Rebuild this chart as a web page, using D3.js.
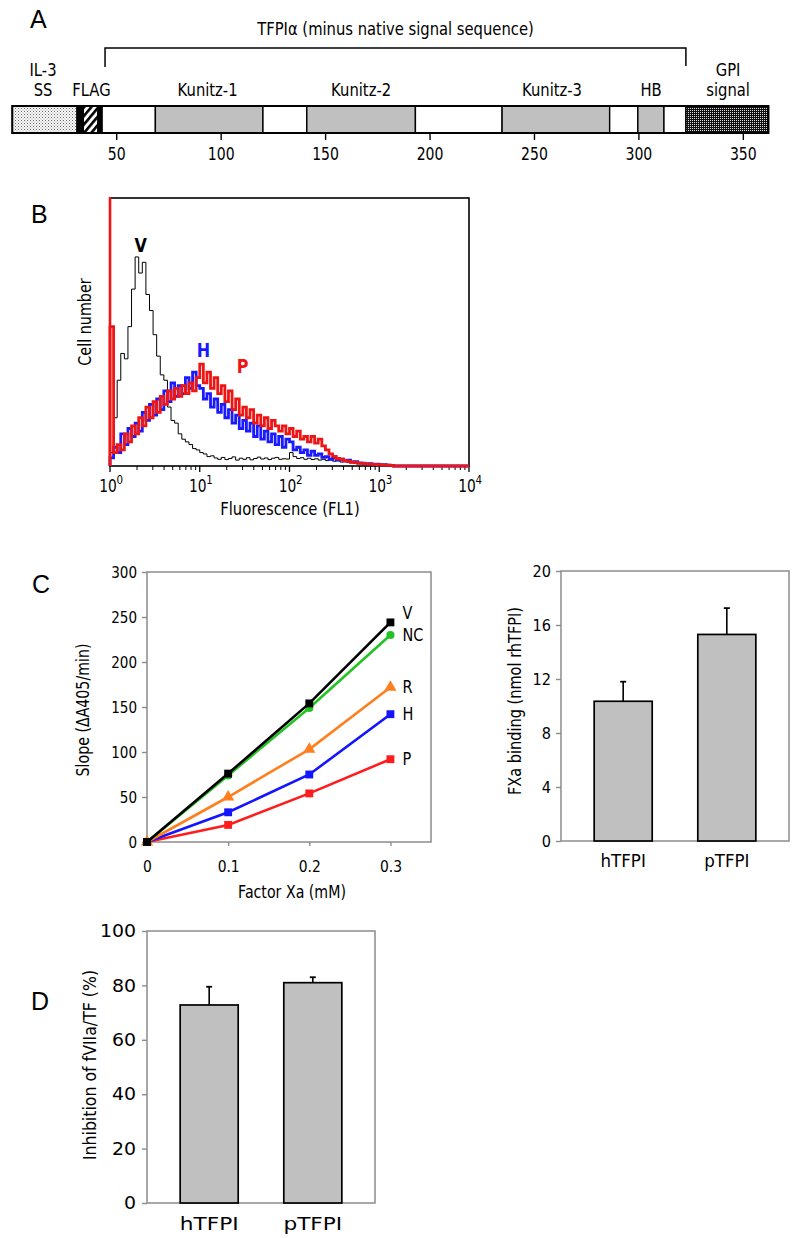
<!DOCTYPE html>
<html><head><meta charset="utf-8">
<script src="https://cdn.jsdelivr.net/npm/d3@7"></script>
<style>
body{margin:0;background:#fff}
svg{display:block}
text{font-family:"DejaVu Sans",sans-serif;fill:#000}
.letter{font-family:"Liberation Sans",Arial,sans-serif}
</style></head><body>
<svg id="fig" width="800" height="1238"></svg>
<script>
// ================= DATA =================
// Panel A: construct map (residue numbering)
const domainStarts = [0, 31, 34, 41, 43, 68.5, 120, 141, 193, 234.5, 286, 299.5, 312, 322.5];
const domainEnds   = [31, 34, 41, 43, 68.5, 120, 141, 193, 234.5, 286, 299.5, 312, 322.5, 362];
const domainKinds  = ["stipple","black","hatch","black","white","gray","white","gray","white","gray","white","gray","white","gpi"];
const domainNames  = [["IL-3","SS"],["FLAG"],["Kunitz-1"],["Kunitz-2"],["Kunitz-3"],["HB"],["GPI","signal"]];
const domainNameAt = [14.7, 37.9, 93.5, 167, 258.4, 305.8, 342.7];
const tfpiSpan     = [44.4, 322.5];
const residueTicks = [50, 100, 150, 200, 250, 300, 350];

// Panel B: flow cytometry histograms (bins of 0.04 log10 units from 10^0)
const binWidthLog = 0.04;
const vBins = [5,18,32,42,40,52,66,78,72,76,
  64,58,49,41,34,32,22,17,16,12,
  10,9,8,6.5,6,5,4.5,3.5,3.8,3,
  2.5,3.2,2.4,2.8,3.4,2.2,2.9,2.5,3.1,2.3,
  2.8,3.3,2.6,3.0,2.4,2.9,3.2,2.5,2.7,2.6,
  5,3.5,2.8,3.1,2.5,2.9,2.4,2.7,2.2,2.5,
  2.0,2.3,1.8,2.0,1.5,1.7,1.3,1.4,1.0,1.1,
  0.8,0.9,0.6,0.7,0.5,0.6,0.4,0.5,0.3,0];
const hBins = [3,7,5,12,8,14,11,16,13,20,
  17,23,19,25,21,28,24,31,26,30,
  27,33,29,35,30,29,25,27,22,25,
  20,23,18,21,16,19,14,17,13,16,
  11,15,10,13,9,12,8,11,7,10,
  9,6,7,5,6,4,5.5,4,4.5,3.2,
  3.5,2.5,3,2.2,2.6,1.8,2.2,1.5,1.6,1.2,
  1.1,0.8,0.9,0.6,0.7,0.4,0.5,0.3,0.2,0];
const pBins = [52,5,8,6,12,9,15,12,18,15,
  22,18,24,20,26,23,28,25,29,26,
  30,27,31,28,33,38,31,35,29,33,
  27,30,24,28,21,25,19,22,18,21,
  16,19,15,18,14,17,15,13,15,12,
  14,11,13,10,11,9,11,8.5,10,7.5,
  6,4.5,3.6,2.8,2.6,2,1.7,1.4,1.3,1.0,
  1.0,0.8,0.7,0.6,0.5,0.4,0.3,0.3,0.2,0];
const pFirstChannel = 150;            // off-scale count in the lowest channel
const histNames = ["V","H","P"];
const logTicks = [1, 10, 100, 1000, 10000];
const logExp = ["0","1","2","3","4"];

// Panel C (left): chromogenic FXa activity
const xaConc  = [0, 0.1, 0.2, 0.3];
const slopeV  = [0, 76, 154, 244];
const slopeNC = [0, 74, 149, 230];
const slopeR  = [0, 50, 103, 172];
const slopeH  = [0, 33, 75, 142];
const slopeP  = [0, 19, 54, 92];
const seriesNames = ["P","H","R","NC","V"];
const slopeTicks = [0, 50, 100, 150, 200, 250, 300];
const concTicks  = [0, 0.1, 0.2, 0.3];

// Panel C (right): FXa binding
const tfpiCats = ["hTFPI", "pTFPI"];
const bindMean = [10.35, 15.3];
const bindErr  = [1.45, 1.95];
const bindTicks = [0, 4, 8, 12, 16, 20];

// Panel D: inhibition of fVIIa/TF
const inhMean = [72.8, 81.0];
const inhErr  = [6.7, 2.0];
const inhTicks = [0, 20, 40, 60, 80, 100];

// ================= STYLE =================
const seriesColors = {V:"#000000", NC:"#22c322", R:"#ff7f1e", H:"#1414ff", P:"#ff1c1c"};
const seriesMarks  = {V:"square", NC:"circle", R:"triangle", H:"square", P:"square"};
const seriesLabelDy = {V:-10, NC:0, R:0, H:0, P:0};
const histColors = {V:"#000000", H:"#1a1aff", P:"#ee1515"};
const histWidths = {V:1, H:2.8, P:2.8};
const frameGray = "#8c8c8c";
const barGray = "#c0c0c0";

function fitText(sel, k){
  sel.each(function(){
    const L = this.getComputedTextLength();
    if (L > 0){ this.setAttribute("textLength", (L*k).toFixed(2)); this.setAttribute("lengthAdjust","spacingAndGlyphs"); }
  });
}

const svg = d3.select("#fig");
const defs = svg.append("defs");

// patterns
const pS = defs.append("pattern").attr("id","stip").attr("width",3).attr("height",3).attr("patternUnits","userSpaceOnUse");
pS.append("rect").attr("width",3).attr("height",3).attr("fill","#fafafa");
pS.append("rect").attr("x",0).attr("y",0).attr("width",1).attr("height",1).attr("fill","#666");
pS.append("rect").attr("x",1.5).attr("y",1.5).attr("width",1).attr("height",1).attr("fill","#999");
const pG = defs.append("pattern").attr("id","gpi").attr("width",2).attr("height",2).attr("patternUnits","userSpaceOnUse");
pG.append("rect").attr("width",2).attr("height",2).attr("fill","#111");
pG.append("rect").attr("x",0).attr("y",0).attr("width",1).attr("height",1).attr("fill","#ddd");
const pH = defs.append("pattern").attr("id","hatch").attr("width",5.5).attr("height",5.5)
  .attr("patternUnits","userSpaceOnUse").attr("patternTransform","rotate(40)");
pH.append("rect").attr("width",5.5).attr("height",5.5).attr("fill","#fff");
pH.append("rect").attr("width",2.6).attr("height",5.5).attr("fill","#000");

// panel letters
const letters = ["A","B","C","D"];
const letterPos = [[30,28],[31,223],[32,593],[31,1010]];
svg.selectAll("text.letter").data(letters).join("text").attr("class","letter")
  .attr("x",(d,i)=>letterPos[i][0]).attr("y",(d,i)=>letterPos[i][1])
  .attr("font-size",25).text(d=>d);

// ================= PANEL A =================
const gA = svg.append("g");
const xA = d3.scaleLinear().domain([0, 362]).range([12.3, 768.4]);
const aTop = 106, aBot = 133;
const fillFor = k => ({stipple:"url(#stip)", black:"#000", hatch:"url(#hatch)", white:"#fff", gray:barGray, gpi:"url(#gpi)"}[k]);
gA.selectAll("rect.seg").data(d3.range(domainStarts.length)).join("rect").attr("class","seg")
  .attr("x", i=>xA(domainStarts[i])).attr("width", i=>xA(domainEnds[i])-xA(domainStarts[i]))
  .attr("y", aTop).attr("height", aBot-aTop)
  .attr("fill", i=>fillFor(domainKinds[i])).attr("stroke","#000").attr("stroke-width",1.4);
gA.append("rect").attr("x",xA(0)).attr("y",aTop).attr("width",xA(362)-xA(0)).attr("height",aBot-aTop)
  .attr("fill","none").attr("stroke","#000").attr("stroke-width",2);
gA.selectAll("line.tk").data(residueTicks).join("line").attr("class","tk")
  .attr("x1",d=>xA(d)).attr("x2",d=>xA(d)).attr("y1",aBot).attr("y2",aBot+7).attr("stroke","#000").attr("stroke-width",1.4);
const aTickText = gA.selectAll("text.tkl").data(residueTicks).join("text").attr("class","tkl")
  .attr("x",d=>xA(d)).attr("y",160).attr("text-anchor","middle").attr("font-size",18).text(d=>d);
fitText(aTickText, 0.78);
gA.append("path").attr("d",`M${xA(tfpiSpan[0])},67V48H${xA(tfpiSpan[1])}V66`)
  .attr("fill","none").attr("stroke","#000").attr("stroke-width",1.5);
const aTitle = gA.append("text").attr("x",(xA(tfpiSpan[0])+xA(tfpiSpan[1]))/2).attr("y",35)
  .attr("text-anchor","middle").attr("font-size",18).text("TFPIα (minus native signal sequence)");
fitText(aTitle, 0.82);
domainNames.forEach((lines,i)=>{
  lines.forEach((t,j)=>{
    const y = lines.length===2 ? (j===0 ? 76 : 96) : 96;
    const tx = gA.append("text").attr("x",xA(domainNameAt[i])).attr("y",y).attr("text-anchor","middle")
      .attr("font-size",18).text(t);
    fitText(tx, 0.82);
  });
});

// ================= PANEL B =================
const gB = svg.append("g");
const xB = d3.scaleLog().domain([1, 10000]).range([110, 469]);
const yB = d3.scaleLinear().domain([0, 100]).range([466, 198]);
defs.append("clipPath").attr("id","clipB").append("rect").attr("x",108).attr("y",197).attr("width",363).attr("height",271);
gB.append("rect").attr("x",xB(1)).attr("y",yB(100)).attr("width",xB(10000)-xB(1)).attr("height",yB(0)-yB(100))
  .attr("fill","none").attr("stroke","#000").attr("stroke-width",1.6);
// ticks
const minorTicks = [];
for (let d=0; d<4; d++) for (let m=2; m<10; m++) minorTicks.push(m*Math.pow(10,d));
gB.selectAll("line.mn").data(minorTicks).join("line").attr("class","mn")
  .attr("x1",d=>xB(d)).attr("x2",d=>xB(d)).attr("y1",466).attr("y2",470).attr("stroke","#000").attr("stroke-width",1);
gB.selectAll("line.mj").data(logTicks).join("line").attr("class","mj")
  .attr("x1",d=>xB(d)).attr("x2",d=>xB(d)).attr("y1",466).attr("y2",472).attr("stroke","#000").attr("stroke-width",1.3);
// tick labels: "10" with superscript exponent in one text element, condensed horizontally
const bTick = gB.selectAll("text.bt").data(logTicks).join("text").attr("class","bt")
  .attr("transform",d=>`translate(${xB(d)-10.7},492) scale(0.79,1)`);
bTick.append("tspan").attr("font-size",17.5).text("10");
bTick.append("tspan").attr("font-size",13).attr("dx",-0.5).attr("dy",-8).text((d,i)=>logExp[i]);
const bxl = gB.append("text").attr("x",290).attr("y",515).attr("text-anchor","middle").attr("font-size",18).text("Fluorescence (FL1)");
fitText(bxl, 0.82);
const byl = gB.append("text").attr("transform","translate(91,322) rotate(-90)").attr("text-anchor","middle")
  .attr("font-size",17.5).text("Cell number");
fitText(byl, 0.82);

const histData = {V:vBins, H:hBins, P:pBins};
const histLine = d3.line().curve(d3.curveStepAfter).x(d=>xB(d[0])).y(d=>yB(Math.min(d[1],101)));
const gHist = gB.append("g").attr("clip-path","url(#clipB)");
histNames.forEach(nm=>{
  const bins = histData[nm];
  const pts = [[1,0]].concat(bins.map((v,i)=>[Math.pow(10,i*binWidthLog), v]), [[Math.pow(10,bins.length*binWidthLog),0],[10000,0]]);
  gHist.append("path").attr("d",histLine(pts)).attr("fill","none")
    .attr("stroke",histColors[nm]).attr("stroke-width",histWidths[nm]).attr("stroke-linejoin","miter");
});
gHist.append("line").attr("x1",xB(1)).attr("x2",xB(1)).attr("y1",yB(0)).attr("y2",yB(Math.min(pFirstChannel,101)))
  .attr("stroke",histColors.P).attr("stroke-width",2.6);
// histogram labels (fluorescence position, baseline y)
const histLabelAt = {V:[2.2, 252], H:[11, 357], P:[30, 373]};
histNames.forEach(nm=>{
  const t = gB.append("text").attr("x",xB(histLabelAt[nm][0])).attr("y",histLabelAt[nm][1]).attr("text-anchor","middle")
    .attr("font-size",20).attr("font-weight","bold").style("fill",histColors[nm]).text(nm);
  fitText(t, 0.8);
});

// ================= PANEL C (left) =================
const gC = svg.append("g");
const xC = d3.scaleLinear().domain([0, 0.35]).range([147, 431]);
const yC = d3.scaleLinear().domain([0, 300]).range([842, 572]);
gC.append("rect").attr("x",xC(0)).attr("y",yC(300)).attr("width",xC(0.35)-xC(0)).attr("height",yC(0)-yC(300))
  .attr("fill","none").attr("stroke",frameGray).attr("stroke-width",1.5);
const axYC = gC.append("g").attr("transform",`translate(${xC(0)},0)`)
  .call(d3.axisLeft(yC).tickValues(slopeTicks).tickSize(5).tickPadding(5));
const axXC = gC.append("g").attr("transform",`translate(0,${yC(0)})`)
  .call(d3.axisBottom(xC).tickValues(concTicks).tickSize(4).tickFormat(d=>d===0?"0":d3.format(".1f")(d)));
[axYC, axXC].forEach(ax=>{
  ax.select(".domain").remove();
  ax.selectAll("line").attr("stroke",frameGray).attr("stroke-width",1.4);
  ax.selectAll("text").attr("font-family",null).attr("font-size",16.5).style("fill","#000");
});
axXC.selectAll("text").attr("y",30).attr("dy",0);
fitText(axYC.selectAll("text"), 0.82);
fitText(axXC.selectAll("text"), 0.84);
const cxl = gC.append("text").attr("x",292).attr("y",898).attr("text-anchor","middle").attr("font-size",17.5).text("Factor Xa (mM)");
fitText(cxl, 0.81);
const cyl = gC.append("text").attr("transform","translate(89,710) rotate(-90)").attr("text-anchor","middle")
  .attr("font-size",17.5).text("Slope (ΔA405/min)");
fitText(cyl, 0.81);

const slopeData = {V:slopeV, NC:slopeNC, R:slopeR, H:slopeH, P:slopeP};
const cLine = d3.line().x((d,i)=>xC(xaConc[i])).y(d=>yC(d));
seriesNames.forEach(nm=>{
  const vals = slopeData[nm], col = seriesColors[nm];
  gC.append("path").attr("d",cLine(vals)).attr("fill","none").attr("stroke",col).attr("stroke-width",2.6);
  gC.selectAll(null).data(vals).join("path")
    .attr("transform",(d,i)=>`translate(${xC(xaConc[i])},${yC(d)})`)
    .attr("d", d3.symbol().type(seriesMarks[nm]==="square"?d3.symbolSquare:seriesMarks[nm]==="circle"?d3.symbolCircle:d3.symbolTriangle)
      .size(seriesMarks[nm]==="square"?62:seriesMarks[nm]==="circle"?52:64)())
    .attr("fill",col);
  const last = vals[vals.length-1];
  const t = gC.append("text").attr("x",xC(0.3)+12).attr("y",yC(last)+seriesLabelDy[nm]).attr("dy","0.36em")
    .attr("font-size",17).text(nm);
  fitText(t, 0.85);
});

// ================= bar chart helper (C right, D) =================
function barPanel(cfg){
  const g = svg.append("g");
  const x = d3.scaleBand().domain(tfpiCats).range([cfg.x0, cfg.x1]).paddingInner(0.44).paddingOuter(0.32);
  const y = d3.scaleLinear().domain(cfg.domain).range([cfg.y0, cfg.y1]);
  g.append("rect").attr("x",cfg.x0).attr("y",cfg.y1).attr("width",cfg.x1-cfg.x0).attr("height",cfg.y0-cfg.y1)
    .attr("fill","none").attr("stroke",frameGray).attr("stroke-width",1.5);
  const ay = g.append("g").attr("transform",`translate(${cfg.x0},0)`)
    .call(d3.axisLeft(y).tickValues(cfg.ticks).tickSize(5).tickPadding(cfg.pad));
  ay.select(".domain").remove();
  ay.selectAll("line").attr("stroke",frameGray).attr("stroke-width",1.4);
  ay.selectAll("text").attr("font-family",null).attr("font-size",cfg.tickFont).style("fill","#000");
  fitText(ay.selectAll("text"), cfg.tickK);
  g.selectAll("rect.bar").data(cfg.mean).join("rect").attr("class","bar")
    .attr("x",(d,i)=>x(tfpiCats[i])).attr("width",x.bandwidth())
    .attr("y",d=>y(d)).attr("height",d=>y(0)-y(d))
    .attr("fill",barGray).attr("stroke","#000").attr("stroke-width",1.7);
  cfg.mean.forEach((m,i)=>{
    const cx = x(tfpiCats[i]) + x.bandwidth()/2;
    g.append("line").attr("x1",cx).attr("x2",cx).attr("y1",y(m)).attr("y2",y(m+cfg.err[i])).attr("stroke","#000").attr("stroke-width",1.6);
    g.append("line").attr("x1",cx-3).attr("x2",cx+3).attr("y1",y(m+cfg.err[i])).attr("y2",y(m+cfg.err[i])).attr("stroke","#000").attr("stroke-width",1.8);
  });
  const cl = g.selectAll("text.cat").data(tfpiCats).join("text").attr("class","cat")
    .attr("x",d=>x(d)+x.bandwidth()/2).attr("y",cfg.catY).attr("text-anchor","middle")
    .attr("font-size",cfg.catFont).text(d=>d);
  fitText(cl, cfg.catK);
  const yl = g.append("text").attr("transform",`translate(${cfg.labX},${cfg.labY}) rotate(-90)`).attr("text-anchor","middle")
    .attr("font-size",17.5).text(cfg.label);
  fitText(yl, cfg.labK);
}

barPanel({x0:561, x1:789, y0:841, y1:571, domain:[0,20], ticks:bindTicks, mean:bindMean, err:bindErr,
  pad:5, tickFont:16.5, tickK:0.88, catY:867, catFont:18.5, catK:0.9,
  label:"FXa binding (nmol rhTFPI)", labX:520.5, labY:701, labK:0.83});

barPanel({x0:147, x1:375, y0:1203, y1:931, domain:[0,100], ticks:inhTicks, mean:inhMean, err:inhErr,
  pad:6, tickFont:17.5, tickK:1.08, catY:1230, catFont:18.5, catK:1.17,
  label:"Inhibition of fVIIa/TF (%)", labX:96, labY:1065, labK:0.9});
</script>
</body></html>
